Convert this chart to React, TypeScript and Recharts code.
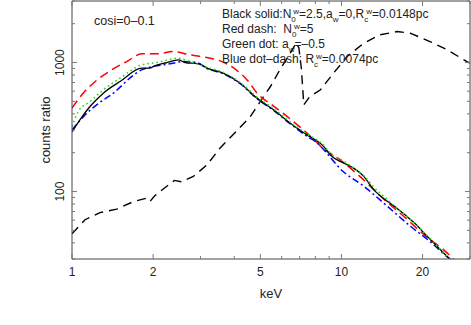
import { LineChart, Line, XAxis, YAxis, Label } from "recharts";

// energies (keV) and counts ratio
const solidE = [1.0, 1.07, 1.166, 1.307, 1.508, 1.815, 1.95, 2.0, 2.25, 2.48, 2.63, 2.95, 3.17, 3.64, 4.21, 4.86, 5.6, 6.46, 7.45, 8.6, 9.1, 10.2, 11.1, 12.1, 13.2, 14.8, 16.1, 17.5, 18.5, 20.8, 25.0, 26.5];
const solidV = [290, 360, 456, 579, 713, 905, 905, 930, 1000, 1049, 1000, 977, 905, 827, 692, 530, 430, 339, 275, 223, 192, 166, 152, 131, 103, 84, 74, 64, 58, 45, 30.5, 27];

const redE = [1.0, 1.1, 1.22, 1.405, 1.597, 1.815, 2.06, 2.38, 2.74, 3.2, 3.55, 4.0, 4.5, 4.86, 5.6, 6.46, 7.87, 8.36, 9.9, 11.7, 14.3, 17.5, 20.2, 23.9, 26.5];
const redV = [443, 579, 713, 878, 1018, 1168, 1168, 1217, 1147, 1090, 1030, 900, 720, 580, 460, 365, 255, 225, 176, 131, 88, 61, 46.5, 35.5, 29];

const greenE = [1.0, 1.055, 1.166, 1.307, 1.508, 1.815, 2.06, 2.48, 2.74, 3.17, 3.64, 4.21, 4.86, 5.6, 6.46, 7.45, 8.6, 9.1, 10.2, 11.1, 12.1, 13.2, 14.8, 16.1, 17.5, 18.5, 20.8, 25.2, 26.5];
const greenV = [319, 417, 499, 615, 757, 960, 1000, 1081, 1018, 920, 840, 700, 540, 440, 345, 280, 228, 198, 172, 152, 133, 108, 87, 74, 64, 58, 45.5, 30, 27];

const blueE = [1.0, 1.118, 1.25, 1.424, 1.666, 1.815, 2.31, 2.59, 2.91, 3.17, 3.64, 4.21, 4.86, 5.6, 6.46, 7.45, 8.2, 8.8, 9.9, 12.1, 14.8, 18.0, 21.3, 25.0, 26.5];
const blueV = [300, 393, 480, 579, 779, 878, 977, 1018, 1000, 900, 820, 685, 525, 425, 335, 268, 235, 200, 150, 110, 77, 54, 41, 30.6, 28];

const dashE = [1.0, 1.118, 1.27, 1.466, 1.69, 1.9, 1.95, 2.02, 2.12, 2.4, 2.55, 2.82, 3.17, 3.54, 4.0, 4.59, 5.14, 5.45, 5.93, 6.46, 6.8, 6.95, 7.1, 7.25, 7.6, 8.36, 9.34, 10.5, 12.1, 13.9, 16.1, 18.0, 21.3, 24.7, 29.2, 30];
const dashV = [47, 60.5, 68.7, 73, 83.6, 89, 84, 92, 100, 122, 119, 131, 161, 217, 282, 381, 545, 652, 890, 1182, 1420, 1300, 900, 470, 540, 615, 827, 1113, 1413, 1640, 1738, 1690, 1455, 1254, 1018, 990];

const xTicks = [1, 2, 3, 4, 5, 6, 7, 8, 9, 10, 20, 30];
const xLabels = [1, 2, 5, 10, 20];
const yTicks = [30, 40, 50, 60, 70, 80, 90, 100, 200, 300, 400, 500, 600, 700, 800, 900, 1000, 2000, 3000];
const yLabels = [100, 1000];

const FONT = '"Liberation Sans", Arial, Helvetica, sans-serif';
const FRAME = "#444";
const TICK = "#777";
const INK = "#222";
const txt = { fontFamily: FONT, fill: INK };
const small = { fontSize: 8 };

const pts = (e: number[], v: number[]) => e.map((x, i) => ({ e: x, v: v[i] }));

function BottomTick({ x, y, payload }: any) {
  const major = xLabels.includes(payload.value);
  return (
    <g>
      <line x1={x} x2={x} y1={y} y2={y - (major ? 5 : 3)} stroke={TICK} />
      {major && (
        <text x={x} y={y + 17} textAnchor="middle" style={{ ...txt, fontSize: 12 }}>
          {payload.value}
        </text>
      )}
    </g>
  );
}

function TopTick({ x, y, payload }: any) {
  const major = xLabels.includes(payload.value);
  return <line x1={x} x2={x} y1={y} y2={y + (major ? 5 : 3)} stroke={TICK} />;
}

function LeftTick({ x, y, payload }: any) {
  const major = yLabels.includes(payload.value);
  const lx = x - 11.5;
  return (
    <g>
      <line x1={x} x2={x + (major ? 5 : 3)} y1={y} y2={y} stroke={TICK} />
      {major && (
        <text x={lx} y={y} transform={`rotate(-90 ${lx} ${y})`} textAnchor="middle"
              dominantBaseline="central" style={{ ...txt, fontSize: 12 }}>
          {payload.value}
        </text>
      )}
    </g>
  );
}

function RightTick({ x, y, payload }: any) {
  const major = yLabels.includes(payload.value);
  return <line x1={x} x2={x - (major ? 5 : 3)} y1={y} y2={y} stroke={TICK} />;
}

function XTitle({ viewBox }: any) {
  return (
    <text x={viewBox.x + viewBox.width / 2} y={297.5} textAnchor="middle" style={{ ...txt, fontSize: 13 }}>
      keV
    </text>
  );
}

function YTitle({ viewBox }: any) {
  const cx = 45;
  const cy = viewBox.y + viewBox.height / 2;
  return (
    <text x={cx} y={cy} transform={`rotate(-90 ${cx} ${cy})`} textAnchor="middle"
          dominantBaseline="central" style={{ ...txt, fontSize: 13 }}>
      counts ratio
    </text>
  );
}

export default function App() {
  return (
    <div style={{ position: "absolute", left: 0, top: 0, width: 471, height: 325, background: "#fff", fontFamily: FONT }}>
      <LineChart width={471} height={325} margin={{ top: 0, right: 0, bottom: 0, left: 0 }}>
        <XAxis xAxisId={0} dataKey="e" type="number" scale="log" domain={[1, 30]} allowDataOverflow
               ticks={xTicks} interval={0} height={66} tickSize={0} tickMargin={0} tickLine={false}
               tick={BottomTick} axisLine={{ stroke: FRAME }}>
          <Label content={XTitle} />
        </XAxis>
        <XAxis xAxisId="top" orientation="top" dataKey="e" type="number" scale="log" domain={[1, 30]}
               allowDataOverflow ticks={xTicks} interval={0} height={1} tickSize={0} tickMargin={0}
               tickLine={false} tick={TopTick} axisLine={{ stroke: FRAME }} />
        <YAxis yAxisId={0} type="number" scale="log" domain={[30, 3000]} allowDataOverflow
               ticks={yTicks} interval={0} width={72} tickSize={0} tickMargin={0} tickLine={false}
               tick={LeftTick} axisLine={{ stroke: FRAME }}>
          <Label content={YTitle} />
        </YAxis>
        <YAxis yAxisId="right" orientation="right" type="number" scale="log" domain={[30, 3000]}
               allowDataOverflow ticks={yTicks} interval={0} width={1} tickSize={0} tickMargin={0}
               tickLine={false} tick={RightTick} axisLine={{ stroke: FRAME }} />

        <Line data={pts(dashE, dashV)} dataKey="v" type="linear" stroke="#000" strokeWidth={1.4}
              strokeDasharray="9 6" dot={false} isAnimationActive={false} />
        <Line data={pts(redE, redV)} dataKey="v" type="monotone" stroke="#ff0000" strokeWidth={1.5}
              strokeDasharray="9 5" dot={false} isAnimationActive={false} />
        <Line data={pts(blueE, blueV)} dataKey="v" type="monotone" stroke="#0000ff" strokeWidth={1.5}
              strokeDasharray="7 3 2 3" dot={false} isAnimationActive={false} />
        <Line data={pts(solidE, solidV)} dataKey="v" type="monotone" stroke="#000" strokeWidth={1.3}
              dot={false} isAnimationActive={false} />
        <Line data={pts(greenE, greenV)} dataKey="v" type="monotone" stroke="#22dd22" strokeWidth={1.6}
              strokeDasharray="1.6 3" dot={false} isAnimationActive={false} />
      </LineChart>

      <svg width={471} height={325} style={{ position: "absolute", left: 0, top: 0, pointerEvents: "none" }}>
        <text x={94} y={24.5} style={{ ...txt, fontSize: 12.5 }}>cosi=0–0.1</text>
        <text x={222} y={18} style={{ ...txt, fontSize: 12 }}>
          Black solid:N<tspan style={small} dy={3.5}>0</tspan>
          <tspan style={small} dx={-2.5} dy={-8}>w</tspan>
          <tspan dy={4.5}>=2.5,a</tspan><tspan style={small} dy={3.5}>w</tspan>
          <tspan dy={-3.5}>=0,R</tspan><tspan style={small} dy={3.5}>c</tspan>
          <tspan style={small} dx={-2} dy={-8}>w</tspan>
          <tspan dy={4.5}>=0.0148pc</tspan>
        </text>
        <text x={222} y={33} style={{ ...txt, fontSize: 12, whiteSpace: "pre" }}>
          {"Red dash:  N"}<tspan style={small} dy={3.5}>0</tspan>
          <tspan style={small} dx={-2.5} dy={-8}>w</tspan>
          <tspan dy={4.5}>=5</tspan>
        </text>
        <text x={222} y={48} style={{ ...txt, fontSize: 12 }}>
          Green dot: a<tspan style={small} dy={3.5}>w</tspan>
          <tspan dy={-3.5}>=–0.5</tspan>
        </text>
        <text x={222} y={63} style={{ ...txt, fontSize: 12 }}>
          Blue dot–dash: R<tspan style={small} dy={3.5}>c</tspan>
          <tspan style={small} dx={-2} dy={-8}>w</tspan>
          <tspan dy={4.5}>=0.0074pc</tspan>
        </text>
      </svg>
    </div>
  );
}
